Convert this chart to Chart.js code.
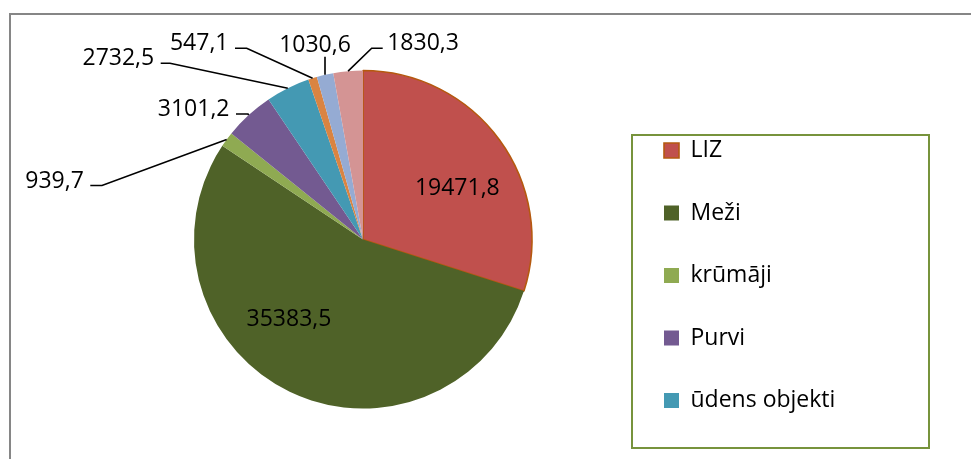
<!DOCTYPE html>
<html>
<head>
<meta charset="utf-8">
<script src="https://cdn.jsdelivr.net/npm/chart.js@4/dist/chart.umd.min.js"></script>
<style>
  body { margin: 0; background: #fff; overflow: hidden; }
  #frame { position: absolute; left: 9px; top: 13px; width: 1100px; height: 600px;
           border-top: 2px solid #868686; border-left: 2px solid #868686; }
  #c { position: absolute; left: 0; top: 0; }
</style>
</head>
<body>
<div id="frame"></div>
<canvas id="c" width="971" height="459"></canvas>
<script>
// zemes lietošanas veidi, ha
const categories = ['LIZ', 'Meži', 'krūmāji', 'Purvi', 'ūdens objekti', 'zeme zem ēkām', 'zeme zem ceļiem', 'pārējās zemes'];
const areas = [19471.8, 35383.5, 939.7, 3101.2, 2732.5, 547.1, 1030.6, 1830.3];
const legendCount = 5; // the legend box only shows the first five

const sliceColors = ['#C0504D', '#4F6228', '#8FAA52', '#735A91', '#4499B3', '#DA8442', '#95ABD3', '#D49494'];
const sliceEdges = ['#B5590F', '#fff', '#fff', '#fff', '#fff', '#fff', '#fff', '#fff'];
const sliceEdgeWidths = [1.6, 0, 0, 0, 0, 0, 0, 0];

// where each value label goes: inside (angle shift from the slice middle, fraction of radius)
// or outside with a leader line (knee offset from the pie centre, horizontal tail)
const labelLayout = [
  { inside: true, shift: 6.8, dist: 0.64 },
  { inside: true, shift: 17.8, dist: 0.636 },
  { knee: [-261, -54], tail: -11.7 },
  { knee: [-115, -125.5], tail: -12 },
  { knee: [-193, -176.2], tail: -9.3 },
  { knee: [-116.3, -191.2], tail: -11.7 },
  { knee: [-38, -182.8], tail: 0 },
  { knee: [8.7, -191.2], tail: 11 }
];

const FONT = '"Open Sans", sans-serif';
const legendFontSize = 23;
const legendPad = 39.5;
const fmt = v => v.toFixed(1).replace('.', ',');

// legend sits at a fixed left edge, so work out how wide chart.js will make it
const probe = document.createElement('canvas').getContext('2d');
probe.font = legendFontSize + 'px ' + FONT;
const longest = Math.max(...categories.slice(0, legendCount).map(t => probe.measureText(t).width));
const legendWidth = legendPad + 15 + legendFontSize / 2 + longest + 10;
const legendLeft = 624.5;

const sliceLabels = {
  id: 'sliceLabels',
  afterDatasetsDraw(chart) {
    const ctx = chart.ctx;
    const meta = chart.getDatasetMeta(0);
    ctx.save();
    ctx.font = '23px ' + FONT;
    ctx.fillStyle = '#000';
    ctx.strokeStyle = '#000';
    ctx.lineWidth = 1.6;
    meta.data.forEach((arc, i) => {
      const p = arc.getProps(['x', 'y', 'startAngle', 'endAngle', 'outerRadius'], true);
      const mid = (p.startAngle + p.endAngle) / 2;
      const lay = labelLayout[i];
      const text = fmt(areas[i]);
      if (lay.inside) {
        const a = mid + lay.shift * Math.PI / 180;
        const r = p.outerRadius * lay.dist;
        ctx.textAlign = 'center';
        ctx.textBaseline = 'alphabetic';
        ctx.fillText(text, p.x + Math.cos(a) * r, p.y + Math.sin(a) * r + 8.3);
        return;
      }
      const ex = p.x + Math.cos(mid) * p.outerRadius;
      const ey = p.y + Math.sin(mid) * p.outerRadius;
      const kx = p.x + lay.knee[0];
      const ky = p.y + lay.knee[1];
      ctx.beginPath();
      ctx.moveTo(ex, ey);
      ctx.lineTo(kx, ky);
      ctx.lineTo(kx + lay.tail, ky);
      ctx.stroke();
      ctx.textBaseline = 'alphabetic';
      if (lay.tail < 0) {
        ctx.textAlign = 'right';
        ctx.fillText(text, kx + lay.tail - 6.5, ky + 2);
      } else if (lay.tail > 0) {
        ctx.textAlign = 'left';
        ctx.fillText(text, kx + lay.tail + 4.5, ky + 2);
      } else {
        ctx.textAlign = 'center';
        ctx.fillText(text, kx - 10, ky - 5);
      }
    });
    ctx.restore();
  }
};

const legendFrame = {
  id: 'legendFrame',
  afterDraw(chart) {
    const hb = chart.legend.legendHitBoxes;
    if (!hb || !hb.length) return;
    const first = hb[0], last = hb[hb.length - 1];
    const x0 = first.left - 32, y0 = first.top - 4;
    const y1 = last.top + last.height + 36;
    const ctx = chart.ctx;
    ctx.save();
    ctx.strokeStyle = '#77933C';
    ctx.lineWidth = 2;
    ctx.strokeRect(x0, y0, 297, y1 - y0);
    ctx.restore();
  }
};

new Chart(document.getElementById('c'), {
  type: 'pie',
  data: {
    labels: categories,
    datasets: [{
      data: areas,
      backgroundColor: sliceColors,
      borderColor: sliceEdges,
      borderWidth: sliceEdgeWidths
    }]
  },
  options: {
    responsive: false,
    animation: false,
    devicePixelRatio: 1,
    radius: 169,
    layout: { padding: { left: 101.5, right: 971 - legendLeft - legendWidth, top: 27.5, bottom: 7.5 } },
    plugins: {
      tooltip: { enabled: false },
      legend: {
        position: 'right',
        align: 'end',
        labels: {
          boxWidth: 15,
          boxHeight: 15,
          padding: legendPad,
          color: '#000',
          font: { family: FONT, size: legendFontSize },
          filter: item => item.index < legendCount
        }
      }
    }
  },
  plugins: [sliceLabels, legendFrame]
});
</script>
</body>
</html>
